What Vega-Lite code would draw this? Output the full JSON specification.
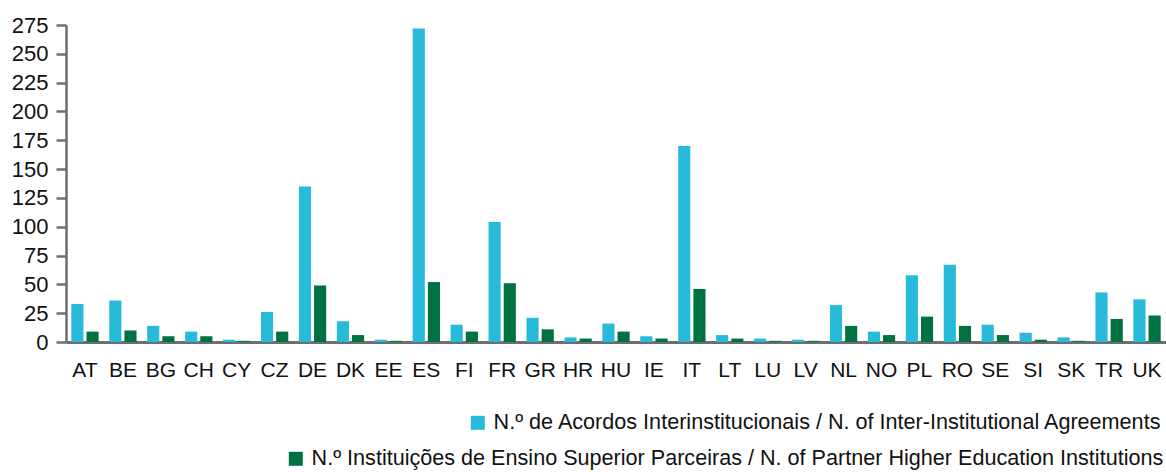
{
  "$schema": "https://vega.github.io/schema/vega-lite/v6.json",
  "width": 1100,
  "height": 317,
  "autosize": {"type": "none"},
  "padding": {"left": 66, "top": 25, "right": 0, "bottom": 130},
  "background": "white",
  "config": {
    "view": {"stroke": null},
    "font": "Liberation Sans",
    "axis": {"labelFont": "Liberation Sans", "labelColor": "#111111"},
    "legend": {"labelFont": "Liberation Sans"}
  },
  "data": {
    "values": [
      {"country": "AT", "series": "A", "value": 33}, {"country": "AT", "series": "B", "value": 9},
      {"country": "BE", "series": "A", "value": 36}, {"country": "BE", "series": "B", "value": 10},
      {"country": "BG", "series": "A", "value": 14}, {"country": "BG", "series": "B", "value": 5},
      {"country": "CH", "series": "A", "value": 9}, {"country": "CH", "series": "B", "value": 5},
      {"country": "CY", "series": "A", "value": 2}, {"country": "CY", "series": "B", "value": 1},
      {"country": "CZ", "series": "A", "value": 26}, {"country": "CZ", "series": "B", "value": 9},
      {"country": "DE", "series": "A", "value": 135}, {"country": "DE", "series": "B", "value": 49},
      {"country": "DK", "series": "A", "value": 18}, {"country": "DK", "series": "B", "value": 6},
      {"country": "EE", "series": "A", "value": 2}, {"country": "EE", "series": "B", "value": 1},
      {"country": "ES", "series": "A", "value": 272}, {"country": "ES", "series": "B", "value": 52},
      {"country": "FI", "series": "A", "value": 15}, {"country": "FI", "series": "B", "value": 9},
      {"country": "FR", "series": "A", "value": 104}, {"country": "FR", "series": "B", "value": 51},
      {"country": "GR", "series": "A", "value": 21}, {"country": "GR", "series": "B", "value": 11},
      {"country": "HR", "series": "A", "value": 4}, {"country": "HR", "series": "B", "value": 3},
      {"country": "HU", "series": "A", "value": 16}, {"country": "HU", "series": "B", "value": 9},
      {"country": "IE", "series": "A", "value": 5}, {"country": "IE", "series": "B", "value": 3},
      {"country": "IT", "series": "A", "value": 170}, {"country": "IT", "series": "B", "value": 46},
      {"country": "LT", "series": "A", "value": 6}, {"country": "LT", "series": "B", "value": 3},
      {"country": "LU", "series": "A", "value": 3}, {"country": "LU", "series": "B", "value": 1},
      {"country": "LV", "series": "A", "value": 2}, {"country": "LV", "series": "B", "value": 1},
      {"country": "NL", "series": "A", "value": 32}, {"country": "NL", "series": "B", "value": 14},
      {"country": "NO", "series": "A", "value": 9}, {"country": "NO", "series": "B", "value": 6},
      {"country": "PL", "series": "A", "value": 58}, {"country": "PL", "series": "B", "value": 22},
      {"country": "RO", "series": "A", "value": 67}, {"country": "RO", "series": "B", "value": 14},
      {"country": "SE", "series": "A", "value": 15}, {"country": "SE", "series": "B", "value": 6},
      {"country": "SI", "series": "A", "value": 8}, {"country": "SI", "series": "B", "value": 2},
      {"country": "SK", "series": "A", "value": 4}, {"country": "SK", "series": "B", "value": 1},
      {"country": "TR", "series": "A", "value": 43}, {"country": "TR", "series": "B", "value": 20},
      {"country": "UK", "series": "A", "value": 37}, {"country": "UK", "series": "B", "value": 23}
    ]
  },
  "encoding": {
    "x": {
      "field": "country", "type": "nominal", "sort": null,
      "scale": {"paddingInner": 0, "paddingOuter": 0},
      "axis": {"title": null, "labelAngle": 0, "labelFontSize": 21, "labelPadding": 17, "ticks": false,
               "domainColor": "#6d6e71", "domainWidth": 3, "grid": false}
    },
    "xOffset": {"field": "series", "type": "nominal", "scale": {"domain": ["A", "B"], "paddingInner": 0.2, "paddingOuter": 0.35}},
    "y": {
      "field": "value", "type": "quantitative",
      "scale": {"domain": [0, 275], "nice": false},
      "axis": {"title": null, "values": [0,25,50,75,100,125,150,175,200,225,250,275], "labelFontSize": 22,
               "labelPadding": 8, "tickSize": 10, "tickWidth": 2.5, "tickColor": "#6d6e71",
               "domainColor": "#6d6e71", "domainWidth": 2.5, "grid": false}
    }
  },
  "layer": [
    {
      "transform": [{"filter": "datum.series === 'A'"}],
      "mark": {"type": "bar"},
      "encoding": {
        "color": {
          "field": "series", "type": "nominal",
          "scale": {"domain": ["A"], "range": ["#28bbd9"]},
          "legend": {
            "title": null, "orient": "none", "legendX": 401, "legendY": 387,
            "symbolType": "square", "symbolSize": 196, "symbolStrokeWidth": 0, "labelFontSize": 21.6, "labelColor": "#111111",
            "labelOffset": 5, "labelLimit": 1000,
            "labelExpr": "'N.º de Acordos Interinstitucionais / N. of Inter-Institutional Agreements'"
          }
        }
      }
    },
    {
      "transform": [{"filter": "datum.series === 'B'"}],
      "mark": {"type": "bar"},
      "encoding": {
        "color": {
          "field": "series", "type": "nominal",
          "scale": {"domain": ["B"], "range": ["#007140"]},
          "legend": {
            "title": null, "orient": "none", "legendX": 219, "legendY": 423,
            "symbolType": "square", "symbolSize": 196, "symbolStrokeWidth": 0, "labelFontSize": 21.6, "labelColor": "#111111",
            "labelOffset": 5, "labelLimit": 1000,
            "labelExpr": "'N.º Instituições de Ensino Superior Parceiras / N. of Partner Higher Education Institutions'"
          }
        }
      }
    }
  ],
  "resolve": {"scale": {"color": "independent"}, "legend": {"color": "independent"}}
}
